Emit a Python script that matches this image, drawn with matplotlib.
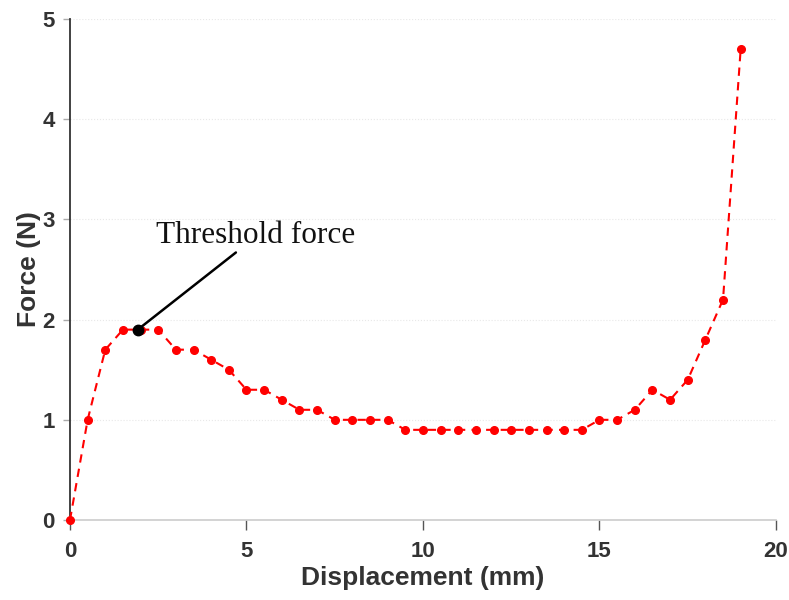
import matplotlib.pyplot as plt
import numpy as np

# displacement (mm) and force (N)
displacement = [0, 0.5, 1, 1.5, 2, 2.5, 3, 3.5, 4, 4.5, 5, 5.5, 6, 6.5, 7, 7.5,
                8, 8.5, 9, 9.5, 10, 10.5, 11, 11.5, 12, 12.5, 13, 13.5, 14,
                14.5, 15, 15.5, 16, 16.5, 17, 17.5, 18, 18.5, 19]
force = [0, 1.0, 1.7, 1.9, 1.9, 1.9, 1.7, 1.7, 1.6, 1.5, 1.3, 1.3, 1.2, 1.1,
         1.1, 1.0, 1.0, 1.0, 1.0, 0.9, 0.9, 0.9, 0.9, 0.9, 0.9, 0.9, 0.9,
         0.9, 0.9, 0.9, 1.0, 1.0, 1.1, 1.3, 1.2, 1.4, 1.8, 2.2, 4.7]

threshold = (1.92, 1.9)
label_pos = (4.7, 2.67)
x_ticks = [0, 5, 10, 15, 20]
y_ticks = [0, 1, 2, 3, 4, 5]

fig = plt.figure(figsize=(7.89, 6.0), dpi=100)
ax = fig.add_axes([0.0887, 0.1333, 0.8948, 0.835])

ax.plot(displacement, force, color="red", linestyle="--", linewidth=1.5,
        marker="o", markersize=5.5, dashes=(4, 3), clip_on=False, zorder=3)
ax.plot(*threshold, marker="o", color="black", markersize=7.5, zorder=4)
ax.annotate("", xy=threshold, xytext=label_pos,
            arrowprops=dict(arrowstyle="-", color="black", lw=1.8, shrinkA=0, shrinkB=0))
ax.text(2.45, 2.84, "Threshold force", family="Liberation Serif", fontsize=22.5,
        color="#111111", va="center", ha="left")

ax.set_xlim(0, 20)
ax.set_ylim(0, 5)
ax.set_xticks(x_ticks)
ax.set_yticks(y_ticks)
ax.grid(axis="y", color="#e8e8e8", linestyle=":", linewidth=0.8)
ax.set_axisbelow(True)

for side in ["top", "right"]:
    ax.spines[side].set_visible(False)
ax.spines["left"].set_color("#333333")
ax.spines["left"].set_linewidth(1.3)
ax.spines["bottom"].set_color("#cccccc")
ax.spines["bottom"].set_linewidth(1.2)
ax.tick_params(axis="y", colors="#aaaaaa", length=5, width=1.0, pad=6)
ax.tick_params(axis="x", colors="#555555", length=7, width=1.0, pad=8)
ax.tick_params(labelcolor="#333333", labelsize=16)
for lbl in ax.get_xticklabels() + ax.get_yticklabels():
    lbl.set_fontweight("bold")
    lbl.set_family("Liberation Sans")

ax.set_xlabel("Displacement (mm)", fontsize=19, fontweight="bold", color="#333333",
              family="Liberation Sans", labelpad=3)
ax.set_ylabel("Force (N)", fontsize=19, fontweight="bold", color="#333333",
              family="Liberation Sans", labelpad=1)

fig.savefig("out.png", dpi=100)
